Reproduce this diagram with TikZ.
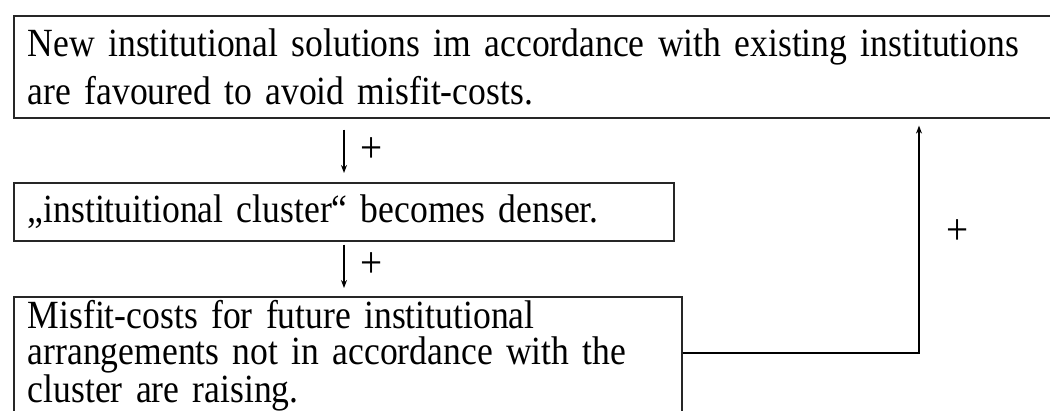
\documentclass[tikz,border=0pt]{standalone}
\usepackage{fontspec}
\setmainfont{Liberation Serif}[FakeStretch=0.89]
\usetikzlibrary{arrows.meta,calc}

\newcommand\boxfont[1]{\fontsize{40}{#1}\selectfont\spaceskip=0.14em\relax\hyphenpenalty=10000\relax}

\tikzset{
  box/.style={draw=black!85, line width=1.6pt, anchor=north west, align=left,
    inner xsep=14pt, inner ysep=0pt, font=\boxfont{48}},
  link/.style={line width=1.3pt, -{Stealth[length=8pt,width=6pt]}},
  sign/.style={font=\fontsize{44}{44}\selectfont, inner sep=0pt}
}

\begin{document}
\begin{tikzpicture}[x=1pt,y=-1pt]
\useasboundingbox (0,0) rectangle (1050,410);
\clip (0,0) rectangle (1050,410);
% the three statements
\node[box, minimum width=1100pt, minimum height=102pt, text width=1072pt] (top) at (13,15)
  {New institutional solutions im accordance with existing institutions\\
   are favoured to avoid misfit-costs.};
\node[box, minimum width=660pt, minimum height=58pt, text width=632pt] (mid) at (13,182)
  {„instituitional cluster“ becomes denser.};
\node[box, minimum width=668pt, minimum height=118pt, text width=640pt,
  font=\boxfont{36}] (bot) at (13,296)
  {Misfit-costs for future institutional\\
   arrangements not in accordance with the\\
   cluster are raising.};
% arrows down
\coordinate (c) at (344,0);
\draw[link] ($(top.south -| c)+(0,11)$) -- ($(mid.north -| c)+(0,-9)$);
\draw[link] ($(mid.south -| c)+(0,3)$) -- ($(bot.north -| c)+(0,-8)$);
\node[sign] (p1) at (372,150) {+};
\node[sign] (p2) at (372,265) {+};
% feedback loop
\coordinate (fb) at (919,353);
\draw[link] (bot.east |- fb) -- (fb) -- ($(top.south -| fb)+(0,7)$);
\node[sign] (p3) at (958,232) {+};
\end{tikzpicture}
\end{document}
